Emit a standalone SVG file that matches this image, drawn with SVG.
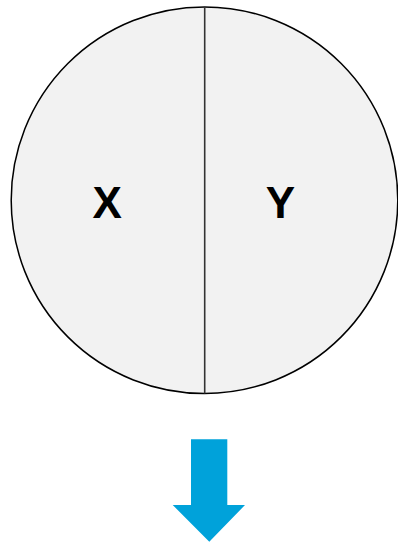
<svg xmlns="http://www.w3.org/2000/svg" width="398" height="542" viewBox="0 0 398 542">
<style>
.lbl{font-family:"Liberation Sans",Arial,sans-serif;font-weight:bold;font-size:44px;fill:#000;text-anchor:middle}
</style>
<rect width="398" height="542" fill="#fff"/>
<g id="circle">
<circle cx="204.5" cy="200.2" r="193.3" fill="#f2f2f2" stroke="#000" stroke-width="1.5"/>
</g>
<g id="connectors">
<line x1="204.7" y1="7" x2="204.7" y2="393.5" stroke="#333" stroke-width="1.6"/>
</g>
<g id="nodeX"><text class="lbl" x="107.2" y="218.3">X</text></g>
<g id="nodeY"><text class="lbl" x="280.5" y="218.3">Y</text></g>
<g id="arrow">
<polygon points="191,439.3 227.3,439.3 227.3,505 245,505 209.3,541.7 172.7,505 191,505" fill="#00A2DA"/>
</g>
</svg>
